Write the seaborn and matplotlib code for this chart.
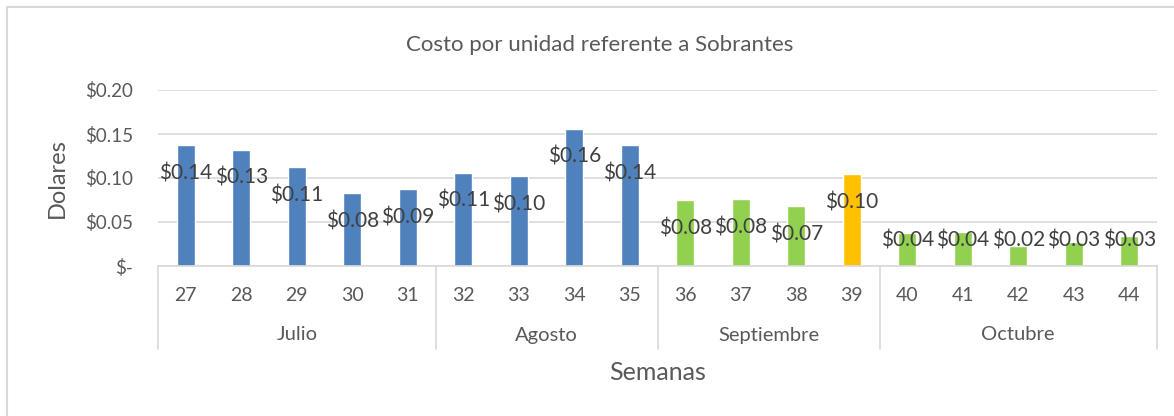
import matplotlib
matplotlib.use("Agg")
import matplotlib.pyplot as plt
import matplotlib.lines as mlines
import seaborn as sns
import pandas as pd

weeks = ["27", "28", "29", "30", "31", "32", "33", "34", "35",
         "36", "37", "38", "39", "40", "41", "42", "43", "44"]
values = [0.1375, 0.132, 0.112, 0.083, 0.087, 0.106, 0.102, 0.156, 0.137,
          0.075, 0.076, 0.068, 0.1045, 0.038, 0.039, 0.0227, 0.0276, 0.034]
labels = ["$0.14", "$0.13", "$0.11", "$0.08", "$0.09", "$0.11", "$0.10", "$0.16", "$0.14",
          "$0.08", "$0.08", "$0.07", "$0.10", "$0.04", "$0.04", "$0.02", "$0.03", "$0.03"]
groups = ["azul"] * 9 + ["verde"] * 3 + ["naranja"] + ["verde"] * 5
months = ["Julio", "Agosto", "Septiembre", "Octubre"]
month_sizes = [5, 4, 4, 5]
palette = {"azul": "#4F81BD", "verde": "#92D050", "naranja": "#FFC000"}

sns.set_theme(style="white")
plt.rcParams["font.family"] = ["Lato", "DejaVu Sans"]

df = pd.DataFrame({"week": weeks, "value": values, "group": groups})

fig = plt.figure(figsize=(11.74, 4.16), dpi=100)
ax = fig.add_axes([158 / 1174, 1 - 266 / 416, (1157 - 158) / 1174, (266 - 90) / 416])

sns.barplot(data=df, x="week", y="value", hue="group", palette=palette,
            dodge=False, width=0.33, legend=False, ax=ax, saturation=1)

ax.set_ylim(0, 0.2)
ax.set_xlim(-0.5, len(weeks) - 0.5)
ax.set_yticks([0, 0.05, 0.10, 0.15, 0.20])
ax.set_yticklabels(["$-", "$0.05", "$0.10", "$0.15", "$0.20"], fontsize=13.5, color="#595959")
ax.yaxis.grid(True, color="#D9D9D9", linewidth=1.2)
ax.set_axisbelow(True)
for s in ["top", "right", "left"]:
    ax.spines[s].set_visible(False)
ax.spines["bottom"].set_color("#D9D9D9")
ax.spines["bottom"].set_linewidth(1.2)
ax.tick_params(axis="y", length=0, pad=18)
ax.tick_params(axis="x", length=0, pad=15, labelsize=14, labelcolor="#595959")
ax.set_xlabel("")
ax.set_ylabel("")

# data labels
for i, (v, lab) in enumerate(zip(values, labels)):
    ax.text(i, max(v - 0.032, 0.0287), lab, ha="center", va="center",
            fontsize=15, color="#404040")

# month group axis
trans = ax.get_xaxis_transform()
bottom_frac = -(349 - 266) / 176
edges = [-0.5]
for n in month_sizes:
    edges.append(edges[-1] + n)
for x in edges:
    ax.add_line(mlines.Line2D([x, x], [0, bottom_frac], transform=trans,
                              color="#D9D9D9", linewidth=1.2, clip_on=False))
for m, a, b in zip(months, edges[:-1], edges[1:]):
    ax.text((a + b) / 2, -(335 - 266) / 176, m, transform=trans, ha="center",
            va="center", fontsize=14.5, color="#595959")

fig.text(57 / 1174, 1 - 178 / 416, "Dolares", rotation=90, ha="center", va="center",
         fontsize=17, color="#595959")
fig.text((158 + 1157) / 2 / 1174, 1 - 372 / 416, "Semanas", ha="center", va="center",
         fontsize=18, color="#595959")
fig.text(600 / 1174, 1 - 45 / 416, "Costo por unidad referente a Sobrantes",
         ha="center", va="center", fontsize=16, color="#595959")

# chart border (left and top visible)
fig.add_artist(mlines.Line2D([7 / 1174, 7 / 1174], [0, 1 - 7 / 416], transform=fig.transFigure,
                             color="#D9D9D9", linewidth=1.5))
fig.add_artist(mlines.Line2D([7 / 1174, 1], [1 - 7 / 416, 1 - 7 / 416], transform=fig.transFigure,
                             color="#D9D9D9", linewidth=1.5))

fig.savefig("out.png", dpi=100, facecolor="white")
